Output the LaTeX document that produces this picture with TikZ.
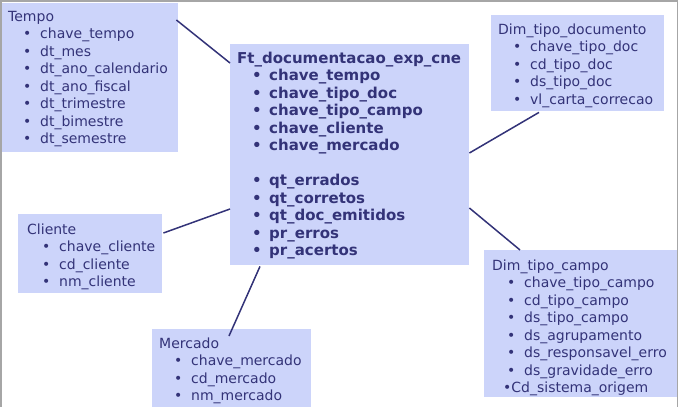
\documentclass[tikz,border=0pt]{standalone}
\usepackage{fontspec}
\setmainfont{DejaVu Sans}
\usepackage{tikz}
\usetikzlibrary{positioning,calc}
\definecolor{boxfill}{RGB}{204,212,250}
\definecolor{ink}{RGB}{51,51,120}
\newcommand{\itm}[1]{\hspace*{15pt}\makebox[17pt][l]{•}#1}
\newcommand{\hd}{\rule{0pt}{13pt}}

\begin{document}
\begin{tikzpicture}[x=1pt, y=-1pt,
    tbl/.style={draw=none, fill=boxfill, anchor=north west, inner sep=0pt},
    txt/.style={anchor=north west, inner sep=0pt, align=left, text=ink,
        font=\fontsize{14}{17.5}\selectfont},
    link/.style={draw=ink, line width=1.5pt}]
\useasboundingbox (0,0) rectangle (681,407);
\draw[gray!70, line width=1.5pt] (1,410) -- (1,1) -- (677.5,1) -- (677.5,410);

\node[tbl, minimum width=176pt, minimum height=149pt] (tempo) at (2,3) {};
\node[tbl, minimum width=239pt, minimum height=221pt] (fact) at (230,44) {};
\node[tbl, minimum width=173pt, minimum height=96pt] (doc) at (491,15) {};
\node[tbl, minimum width=144pt, minimum height=79pt] (cliente) at (18,214) {};
\node[tbl, minimum width=159pt, minimum height=81pt] (mercado) at (152,329) {};
\node[tbl, minimum width=193pt, minimum height=147pt] (campo) at (484,250) {};

\node[txt, below right=5pt and 6pt of tempo.north west] (tempotxt) {\hd Tempo\\
    \itm{chave\_tempo}\\ \itm{dt\_mes}\\ \itm{dt\_ano\_calendario}\\
    \itm{dt\_ano\_fiscal}\\ \itm{dt\_trimestre}\\ \itm{dt\_bimestre}\\
    \itm{dt\_semestre}};
\node[txt, font=\fontsize{15}{17.5}\selectfont\bfseries,
    below right=6pt and 7pt of fact.north west] (facttxt) {\hd Ft\_documentacao\_exp\_cne\\
    \itm{chave\_tempo}\\ \itm{chave\_tipo\_doc}\\ \itm{chave\_tipo\_campo}\\
    \itm{chave\_cliente}\\ \itm{chave\_mercado}\\[17.5pt]
    \itm{qt\_errados}\\ \itm{qt\_corretos}\\ \itm{qt\_doc\_emitidos}\\
    \itm{pr\_erros}\\ \itm{pr\_acertos}};
\node[txt, below right=6pt and 7pt of doc.north west] (doctxt) {\hd Dim\_tipo\_documento\\
    \itm{chave\_tipo\_doc}\\ \itm{cd\_tipo\_doc}\\ \itm{ds\_tipo\_doc}\\
    \itm{vl\_carta\_correcao}};
\node[txt, below right=7pt and 9pt of cliente.north west] (clientetxt) {\hd Cliente\\
    \itm{chave\_cliente}\\ \itm{cd\_cliente}\\ \itm{nm\_cliente}};
\node[txt, below right=6pt and 7pt of mercado.north west] (mercadotxt) {\hd Mercado\\
    \itm{chave\_mercado}\\ \itm{cd\_mercado}\\ \itm{nm\_mercado}};
\node[txt, below right=7pt and 8pt of campo.north west] (campotxt) {\hd Dim\_tipo\_campo\\
    \itm{chave\_tipo\_campo}\\ \itm{cd\_tipo\_campo}\\ \itm{ds\_tipo\_campo}\\
    \itm{ds\_agrupamento}\\ \itm{ds\_responsavel\_erro}\\ \itm{ds\_gravidade\_erro}\\
    \hspace*{11pt}•Cd\_sistema\_origem};

\draw[link] ($(tempo.north east)+(-2,17)$) -- ($(fact.north west)+(0,19)$);
\draw[link] ($(doc.south west)+(48,1)$) -- ($(fact.north east)+(0,109)$);
\draw[link] ($(cliente.north east)+(1,19)$) -- ($(fact.north west)+(0,165)$);
\draw[link] ($(mercado.north west)+(77,7)$) -- ($(fact.south west)+(30,1)$);
\draw[link] ($(campo.north west)+(36,0)$) -- ($(fact.north east)+(0,164)$);
\end{tikzpicture}
\end{document}
